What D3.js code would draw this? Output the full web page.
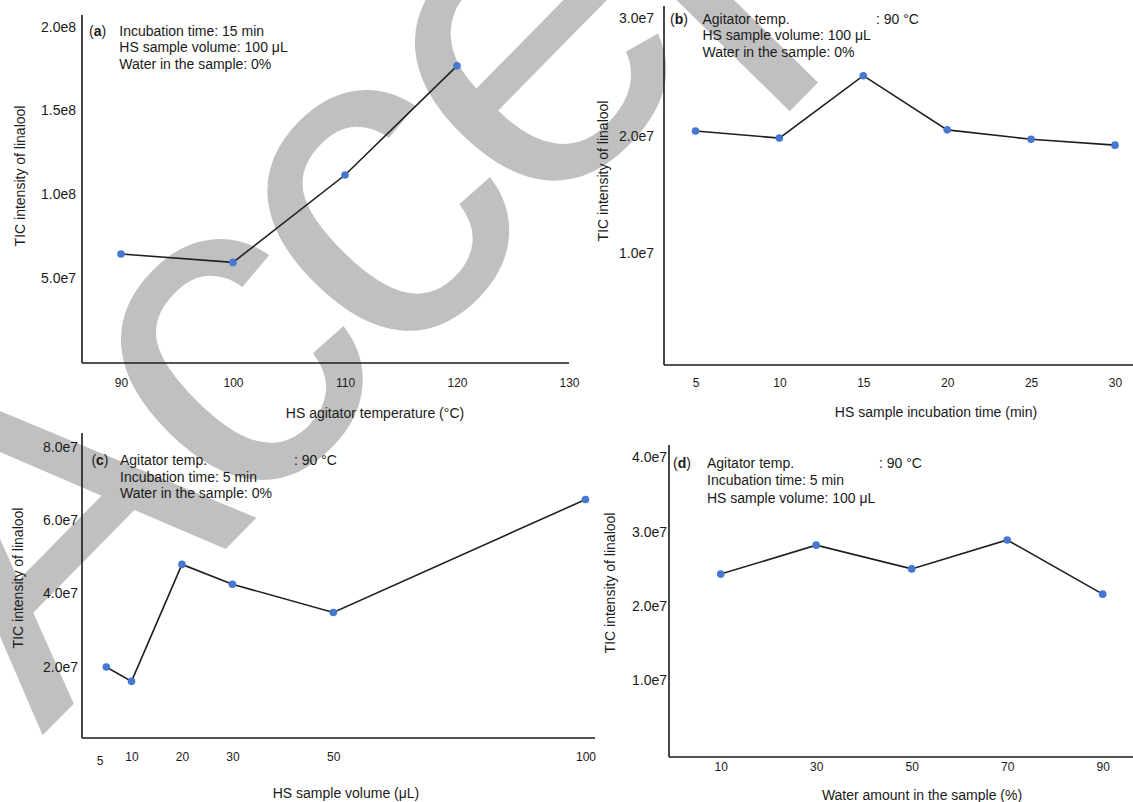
<!DOCTYPE html>
<html lang="en">
<head>
<meta charset="utf-8">
<title>Linalool HS parameters</title>
<script src="https://cdn.jsdelivr.net/npm/d3@7"></script>
<style>
	body {
		margin: 0;
		background: #fff;
		font-family: "Liberation Sans", Arial, Helvetica, sans-serif;
	}
	svg text { fill: #1a1a1a; }
	.axis-line { stroke: #1a1a1a; stroke-width: 1.6; }
	.series { fill: none; stroke: #1f1f1f; stroke-width: 1.6; }
	.dot { fill: #4677d1; }
	.ytick text { font-size: 14px; }
	.xtick text { font-size: 12px; }
	.title { font-size: 14px; }
	.note { font-size: 14px; }
	.mark { fill: #c0c0c0; font-size: 460px; letter-spacing: -21px; }
</style>
</head>
<body>
<svg id="chart" width="1133" height="802"></svg>
<script>

// values
var tempX = [90, 100, 110, 120]
var tempY = [6.42e7, 5.92e7, 1.114e8, 1.766e8]
var tempTicks = [90, 100, 110, 120, 130]
var tempYTicks = [5e7, 1e8, 1.5e8, 2e8]

var timeX = [5, 10, 15, 20, 25, 30]
var timeY = [2.04e7, 1.98e7, 2.51e7, 2.05e7, 1.97e7, 1.92e7]
var timeTicks = [5, 10, 15, 20, 25, 30]
var timeYTicks = [1e7, 2e7, 3e7]

var volX = [5, 10, 20, 30, 50, 100]
var volY = [1.99e7, 1.60e7, 4.79e7, 4.25e7, 3.48e7, 6.56e7]
var volTicks = [5, 10, 20, 30, 50, 100]
var volYTicks = [2e7, 4e7, 6e7, 8e7]

var waterX = [10, 30, 50, 70, 90]
var waterY = [2.43e7, 2.82e7, 2.50e7, 2.89e7, 2.16e7]
var waterTicks = [10, 30, 50, 70, 90]
var waterYTicks = [1e7, 2e7, 3e7, 4e7]

var xTitles = ["HS agitator temperature (°C)", "HS sample incubation time (min)",
	"HS sample volume (μL)", "Water amount in the sample (%)"]
var yTitle = "TIC intensity of linalool"
var notesA = ["Incubation time: 15 min", "HS sample volume: 100 μL", "Water in the sample: 0%"]
var notesB = ["Agitator temp.", "HS sample volume: 100 μL", "Water in the sample: 0%"]
var notesC = ["Agitator temp.", "Incubation time: 5 min", "Water in the sample: 0%"]
var notesD = ["Agitator temp.", "Incubation time: 5 min", "HS sample volume: 100 μL"]
var tempNote = ": 90 °C"

// layout of the four panels (pixels)
var panels = [
	{ tag: "a", xs: tempX, ys: tempY, xt: tempTicks, yt: tempYTicks, notes: notesA, temp: false,
	  xr: [121, 569], yr: [361.5, 26.7], xd: [90, 130], yd: [0, 2e8],
	  ax: 82, ay: 363, top: 15, right: 569, xpad: 15.7, ypad: 6,
	  lab: [89, 31], txt: 119.3, gap: 16.5, vx: 0, xtl: [375, 413], ytl: [20, 176] },
	{ tag: "b", xs: timeX, ys: timeY, xt: timeTicks, yt: timeYTicks, notes: notesB, temp: true,
	  xr: [695.5, 1115], yr: [253.5, 18], xd: [5, 30], yd: [1e7, 3e7],
	  ax: 664, ay: 365, top: 6, right: 1133, xpad: 13.3, ypad: 10,
	  lab: [670, 19], txt: 702.5, gap: 16.5, vx: 876, xtl: [936, 412], ytl: [603, 171] },
	{ tag: "c", xs: volX, ys: volY, xt: volTicks, yt: volYTicks, notes: notesC, temp: true,
	  xr: [106.3, 585.5], yr: [666.7, 446.7], xd: [5, 100], yd: [2e7, 8e7],
	  ax: 82, ay: 738, top: 433, right: 595, xpad: 14.7, ypad: 4,
	  lab: [91.4, 460], txt: 120, gap: 16.7, vx: 294, xtl: [346, 793], ytl: [18, 578] },
	{ tag: "d", xs: waterX, ys: waterY, xt: waterTicks, yt: waterYTicks, notes: notesD, temp: true,
	  xr: [720.7, 1102.7], yr: [680.3, 457.5], xd: [10, 90], yd: [1e7, 4e7],
	  ax: 669, ay: 757, top: 445, right: 1133, xpad: 5.7, ypad: 2,
	  lab: [673, 462.7], txt: 707, gap: 17.8, vx: 879, xtl: [922, 795], ytl: [610.5, 583] }
]

var svg = d3.select("#chart")

// big grey watermark sits under everything
svg.append("text")
	.attr("class", "mark")
	.attr("transform", "translate(42,736) rotate(-45.5)")
	.text("Accepted")

var fmt = function(v) { return d3.format(".1e")(v).replace("+", "") }

panels.forEach(function(p, k) {
	var x = d3.scaleLinear().domain(p.xd).range(p.xr)
	var y = d3.scaleLinear().domain(p.yd).range(p.yr)
	var g = svg.append("g").attr("class", "panel-" + p.tag)

	g.append("line").attr("class", "axis-line")
		.attr("x1", p.ax).attr("x2", p.ax).attr("y1", p.top).attr("y2", p.ay)
	g.append("line").attr("class", "axis-line")
		.attr("x1", p.ax).attr("x2", p.right).attr("y1", p.ay).attr("y2", p.ay)

	var xa = g.append("g").attr("class", "xtick")
		.attr("transform", "translate(0," + p.ay + ")")
		.call(d3.axisBottom(x).tickValues(p.xt).tickSize(0).tickPadding(p.xpad))
	xa.select(".domain").remove()
	// the "5" on the volume axis sits a bit left and low in the original
	if (p.tag == "c") {
		xa.selectAll(".tick text").filter(function(d) { return d == 5 })
			.attr("dx", -6.7).attr("dy", "1.0em")
	}

	var ya = g.append("g").attr("class", "ytick")
		.attr("transform", "translate(" + p.ax + ",0)")
		.call(d3.axisLeft(y).tickValues(p.yt).tickSize(0).tickPadding(p.ypad).tickFormat(fmt))
	ya.select(".domain").remove()
	g.selectAll(".tick text").style("fill", "#1a1a1a")

	var pts = d3.zip(p.xs, p.ys)
	g.append("path").attr("class", "series")
		.attr("d", d3.line().x(function(d) { return x(d[0]) }).y(function(d) { return y(d[1]) })(pts))
	g.selectAll(".dot").data(pts).enter().append("circle")
		.attr("class", "dot")
		.attr("cx", function(d) { return x(d[0]) })
		.attr("cy", function(d) { return y(d[1]) })
		.attr("r", 3.8)

	g.append("text").attr("class", "title")
		.attr("x", p.xtl[0]).attr("y", p.xtl[1]).attr("dy", "0.35em")
		.attr("text-anchor", "middle").text(xTitles[k])
	g.append("text").attr("class", "title")
		.attr("transform", "translate(" + p.ytl[0] + "," + p.ytl[1] + ") rotate(-90)")
		.attr("dy", "0.35em").attr("text-anchor", "middle").text(yTitle)

	var lab = g.append("text").attr("class", "note")
		.attr("x", p.lab[0]).attr("y", p.lab[1]).attr("dy", "0.35em")
	lab.append("tspan").text("(")
	lab.append("tspan").style("font-weight", "bold").text(p.tag)
	lab.append("tspan").text(")")

	g.selectAll(".line-note").data(p.notes).enter().append("text")
		.attr("class", "note")
		.attr("x", p.txt)
		.attr("y", function(d, i) { return p.lab[1] + i * p.gap })
		.attr("dy", "0.35em")
		.text(function(d) { return d })
	if (p.temp) {
		g.append("text").attr("class", "note")
			.attr("x", p.vx).attr("y", p.lab[1]).attr("dy", "0.35em")
			.text(tempNote)
	}
})

</script>
</body>
</html>
